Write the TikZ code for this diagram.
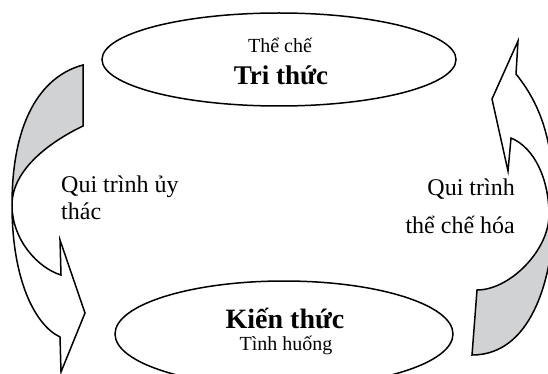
\documentclass[tikz,border=0pt]{standalone}
\usepackage{fontspec}
\setmainfont{Liberation Serif}
\usetikzlibrary{shapes.geometric}
\definecolor{bandgray}{RGB}{209,210,212}
\begin{document}
\begin{tikzpicture}[x=1pt,y=-1pt,
  outline/.style={draw=black, line width=1.5pt, line join=miter},
  oval/.style={ellipse, draw=black, line width=1.5pt, inner sep=0pt},
  smalltxt/.style={font=\fontsize{20}{24}\selectfont, inner sep=0pt, anchor=base},
  bigtxt/.style={font=\fontsize{27}{30}\selectfont\bfseries, inner sep=0pt, anchor=base},
  labeltxt/.style={inner sep=0pt}]
\useasboundingbox (0,0) rectangle (548,374);
\clip (0,0) rectangle (548,374);
% ellipses
\node[oval, minimum width=354pt, minimum height=93pt] (top) at (279,59.5) {};
\node[oval, minimum width=338pt, minimum height=106pt] (bot) at (284,334) {};
\node[smalltxt] (the) at (280,53) {Thể chế};
\node[bigtxt] (tri) at (281,85) {Tri thức};
\node[bigtxt, font=\fontsize{28}{30}\selectfont\bfseries] (kien) at (285,328) {Kiến thức};
\node[smalltxt] (tinh) at (286,350) {Tình huống};
% left curved arrow
\fill[bandgray] (83,65) -- (83,126) .. controls (60,137) and (12,165) .. (12,205)
   .. controls (12,115) and (45,75) .. (83,65) -- cycle;
\draw[outline] (83,65) .. controls (45,75) and (12,115) .. (12,205)
   .. controls (12,280) and (35,325) .. (60,337) -- (61,372) -- (85,313) -- (60,240) -- (61,275)
   .. controls (38,268) and (12,240) .. (12,205)
   .. controls (12,165) and (60,137) .. (83,126) -- cycle;
% right curved arrow
\fill[bandgray] (472,355) .. controls (535,355) and (554,270) .. (554,210) -- (549,215)
   .. controls (549,250) and (510,290) .. (477,290) -- cycle;
\draw[outline] (472,355) .. controls (535,355) and (554,270) .. (554,210)
   .. controls (554,150) and (545,110) .. (516,74) -- (518,41) -- (492,99) -- (508,171) -- (511,138)
   .. controls (535,148) and (549,180) .. (549,215)
   .. controls (549,250) and (510,290) .. (477,290) -- cycle;
% labels
\node[labeltxt, anchor=base west, font=\fontsize{24}{27}\selectfont] (lq) at (61,192)
   {\begin{tabular}[t]{@{}l@{}}Qui trình ủy\\thác\end{tabular}};
\node[labeltxt, anchor=base east, font=\fontsize{24}{38}\selectfont] (rq) at (515,195)
   {\begin{tabular}[t]{@{}r@{}}Qui trình\\thể chế hóa\end{tabular}};
\end{tikzpicture}
\end{document}
